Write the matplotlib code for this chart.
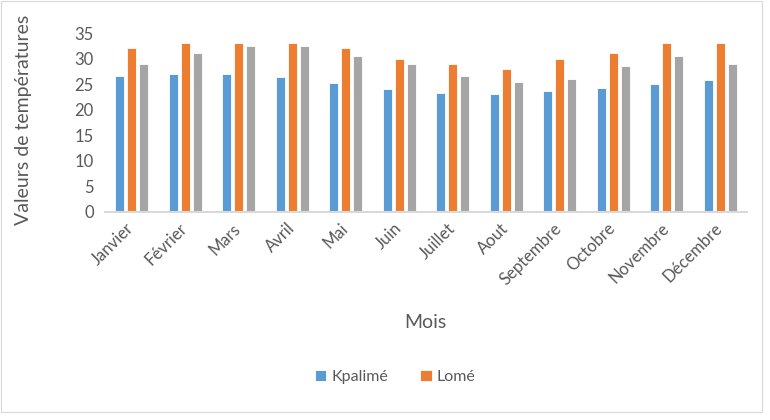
import numpy as np
import matplotlib
matplotlib.use('Agg')
import matplotlib.pyplot as plt
import matplotlib.transforms as mtransforms
from matplotlib.patches import Rectangle

plt.rcParams['font.family'] = ['Lato', 'DejaVu Sans']

mois = ['Janvier', 'Février', 'Mars', 'Avril', 'Mai', 'Juin', 'Juillet',
        'Aout', 'Septembre', 'Octobre', 'Novembre', 'Décembre']
kpalime = [26.6, 27.0, 26.9, 26.3, 25.3, 24.0, 23.3, 23.1, 23.6, 24.3, 25.1, 25.8]
lome = [32, 33, 33, 33, 32, 30, 29, 28, 30, 31, 33, 33]
serie3 = [29, 31, 32.5, 32.5, 30.5, 29, 26.5, 25.5, 26, 28.5, 30.5, 29]

BLUE = '#5b9bd5'
ORANGE = '#ed7d31'
GREY = '#a5a5a5'
TXT = '#595959'

fig = plt.figure(figsize=(7.7, 4.2), dpi=100)
ax = fig.add_axes([105 / 770, 1 - 212 / 420, (747 - 105) / 770, (212 - 33) / 420])

x = np.arange(len(mois))
w = 0.175
off = 0.224
ax.bar(x - off, kpalime, w, color=BLUE, edgecolor='white', linewidth=0.6, label='Kpalimé')
ax.bar(x, lome, w, color=ORANGE, edgecolor='white', linewidth=0.6, label='Lomé')
ax.bar(x + off, serie3, w, color=GREY, edgecolor='white', linewidth=0.6)

ax.set_xlim(-0.5, len(mois) - 0.5)
ax.set_ylim(0, 35)
ax.set_yticks(range(0, 36, 5))
ax.set_xticks(x)
ax.set_xticklabels(mois, rotation=45, ha='right', rotation_mode='anchor')
ax.tick_params(length=0, colors=TXT, labelsize=12)
ax.tick_params(axis='y', pad=8)
ax.tick_params(axis='x', pad=6)
shift = mtransforms.ScaledTranslation(-6 / 100, 0, fig.dpi_scale_trans)
for lbl in ax.get_xticklabels():
    lbl.set_transform(lbl.get_transform() + shift)
for s in ['top', 'right', 'left']:
    ax.spines[s].set_visible(False)
ax.spines['bottom'].set_color('#d9d9d9')
ax.spines['bottom'].set_linewidth(1.5)

fig.text(24 / 770, 1 - 120 / 420, 'Valeurs de températures', rotation=90,
         ha='center', va='center', fontsize=14, color=TXT)
fig.text(425 / 770, 1 - 322 / 420, 'Mois', ha='center', va='center',
         fontsize=14, color=TXT)

fig.legend(loc='center', bbox_to_anchor=(395 / 770, 1 - 377 / 420), ncol=2,
           frameon=False, fontsize=11.5, labelcolor=TXT, handlelength=0.75,
           handleheight=0.75, columnspacing=2.0, handletextpad=0.3)

fig.patches.append(Rectangle((0.5 / 770, 1 - 412 / 420), 761 / 770, 411.5 / 420,
                             transform=fig.transFigure, fill=False,
                             edgecolor='#d9d9d9', linewidth=0.8))

fig.savefig('out.png', dpi=100)
